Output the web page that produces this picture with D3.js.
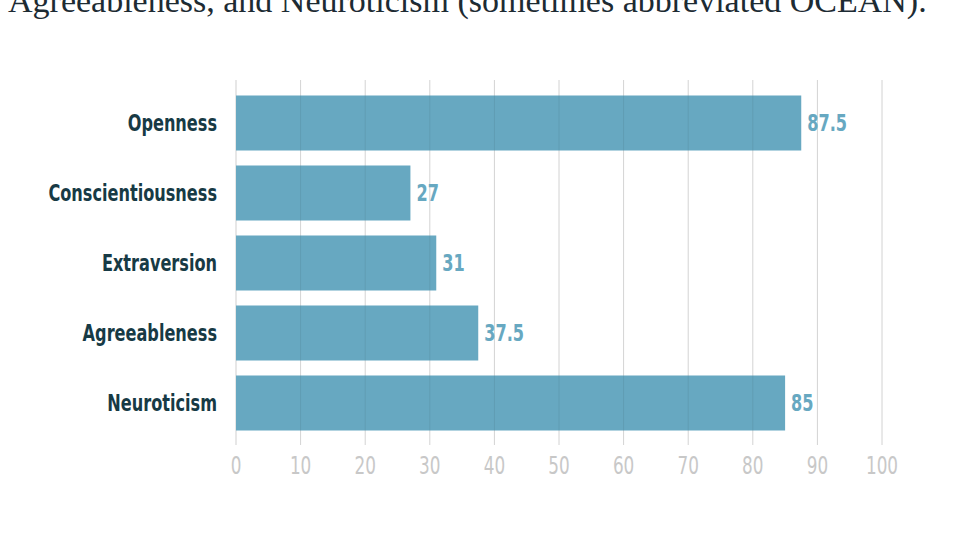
<!DOCTYPE html>
<html><head><meta charset="utf-8">
<script src="https://cdn.jsdelivr.net/npm/d3@7"></script>
<style>body{margin:0;background:#fff}</style></head>
<body><svg id="c" width="970" height="548"></svg>
<script>
const categories=["Openness","Conscientiousness","Extraversion","Agreeableness","Neuroticism"];
const values=[87.5,27,31,37.5,85];
const ticks=[0,10,20,30,40,50,60,70,80,90,100];
const svg=d3.select("#c");
const cond="'DejaVu Sans Condensed','DejaVu Sans',sans-serif";
const sx=0.78;
svg.append("text").attr("x",8).attr("y",12).attr("font-family","'Liberation Serif',serif")
 .attr("font-size",34).attr("fill","#1d2b33").text("Agreeableness, and Neuroticism (sometimes abbreviated OCEAN).");
const x=d3.scaleLinear().domain([0,100]).range([236,882]);
const y=d3.scaleBand().domain(categories).range([88,438]).paddingInner(15/70).paddingOuter(7.5/70);
const g=svg.append("g");
g.selectAll("line.g").data(ticks).join("line").attr("x1",d=>x(d)).attr("x2",d=>x(d))
 .attr("y1",80).attr("y2",445).attr("stroke",(d)=>d===0?"#cfcfcf":"#e4e4e4").attr("stroke-width",1);
g.selectAll("rect").data(values).join("rect").attr("x",x(0)).attr("y",(d,i)=>y(categories[i]))
 .attr("width",d=>x(d)-x(0)).attr("height",y.bandwidth()).attr("fill","#67a8c1");
g.selectAll("line.o").data(ticks.slice(1)).join("line").attr("x1",d=>x(d)).attr("x2",d=>x(d))
 .attr("y1",80).attr("y2",445).attr("stroke","#000").attr("stroke-opacity",0.07);
g.selectAll("text.v").data(values).join("text")
 .attr("transform",(d,i)=>`translate(${x(d)+6},${y(categories[i])+y.bandwidth()/2}) scale(${sx},1)`)
 .attr("dy","0.36em").attr("font-family",cond).attr("font-weight","bold").attr("font-size",23)
 .attr("fill","#67a8c1").text(d=>d);
g.selectAll("text.c").data(categories).join("text")
 .attr("transform",d=>`translate(217,${y(d)+y.bandwidth()/2}) scale(${sx},1)`)
 .attr("dy","0.36em").attr("text-anchor","end").attr("font-family",cond).attr("font-weight","bold")
 .attr("font-size",23).attr("fill","#173a45").text(d=>d);
g.selectAll("text.t").data(ticks).join("text")
 .attr("transform",d=>`translate(${x(d)},465) scale(${sx},1)`).attr("dy","0.36em")
 .attr("text-anchor","middle").attr("font-family",cond).attr("font-size",24).attr("fill","#c8c8c8").text(d=>d);
</script></body></html>
